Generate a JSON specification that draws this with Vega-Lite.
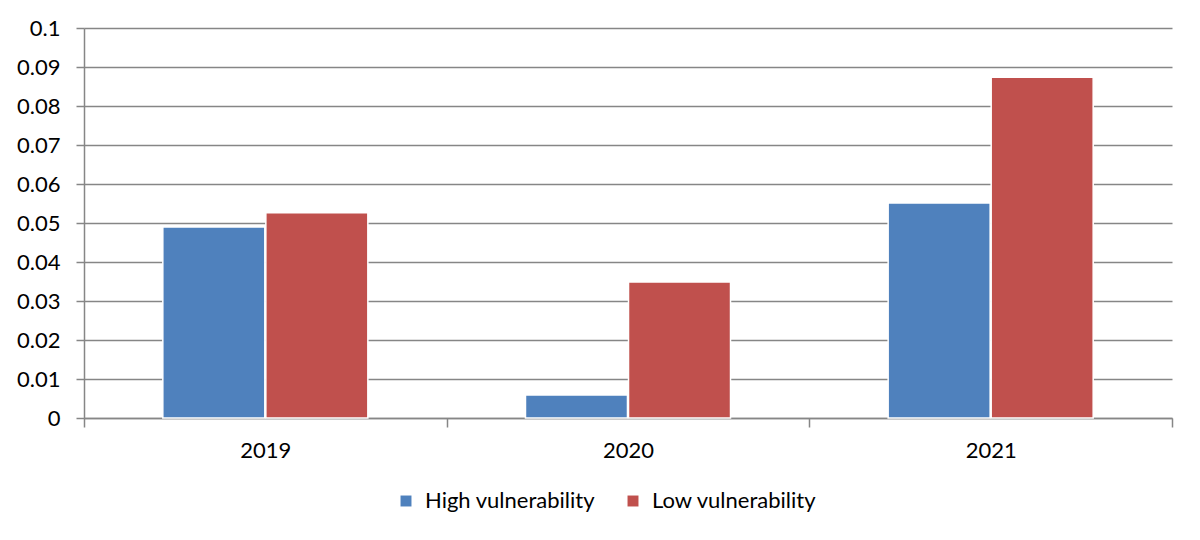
{
  "$schema": "https://vega.github.io/schema/vega-lite/v6.json",
  "width": 1088,
  "height": 390,
  "autosize": {"type": "none"},
  "padding": {"left": 84, "top": 28, "right": 28, "bottom": 122},
  "background": "#ffffff",
  "data": {
    "values": [
      {"year": "2019", "group": "High vulnerability", "value": 0.049},
      {"year": "2019", "group": "Low vulnerability", "value": 0.0526},
      {"year": "2020", "group": "High vulnerability", "value": 0.0059},
      {"year": "2020", "group": "Low vulnerability", "value": 0.0349},
      {"year": "2021", "group": "High vulnerability", "value": 0.0551},
      {"year": "2021", "group": "Low vulnerability", "value": 0.0874}
    ]
  },
  "mark": {"type": "bar", "stroke": "#ffffff", "strokeWidth": 1.5},
  "encoding": {
    "x": {
      "field": "year",
      "type": "nominal",
      "title": null,
      "scale": {"paddingInner": 0, "paddingOuter": 0},
      "axis": {
        "labelAngle": 0,
        "tickBand": "extent",
        "tickSize": 9,
        "labelPadding": 13
      }
    },
    "xOffset": {
      "field": "group",
      "type": "nominal",
      "scale": {"paddingInner": 0.01, "paddingOuter": 0.765}
    },
    "y": {
      "field": "value",
      "type": "quantitative",
      "title": null,
      "scale": {"domain": [0, 0.1], "nice": false},
      "axis": {
        "values": [0, 0.01, 0.02, 0.03, 0.04, 0.05, 0.06, 0.07, 0.08, 0.09, 0.1],
        "format": ".2~f",
        "tickSize": 8,
        "labelPadding": 16
      }
    },
    "color": {
      "field": "group",
      "type": "nominal",
      "title": null,
      "scale": {"range": ["#4F81BD", "#C0504D"]},
      "legend": {
        "orient": "none",
        "legendX": 311,
        "legendY": 462,
        "direction": "horizontal",
        "symbolType": "square",
        "symbolSize": 120,
        "labelOffset": 8,
        "labelLimit": 400,
        "columnPadding": 26
      }
    }
  },
  "config": {
    "font": "Lato",
    "view": {"stroke": null},
    "axis": {
      "labelFont": "Lato",
      "labelFontSize": 22,
      "labelColor": "#000000",
      "domainColor": "#868686",
      "domainWidth": 1.5,
      "tickColor": "#868686",
      "tickWidth": 1.5,
      "gridColor": "#868686",
      "gridWidth": 1.5,
      "gridOpacity": 1
    },
    "axisX": {"grid": false},
    "axisY": {"grid": true, "domain": true},
    "legend": {
      "labelFont": "Lato",
      "labelFontSize": 22,
      "labelColor": "#000000",
      "symbolStrokeWidth": 0
    }
  }
}
